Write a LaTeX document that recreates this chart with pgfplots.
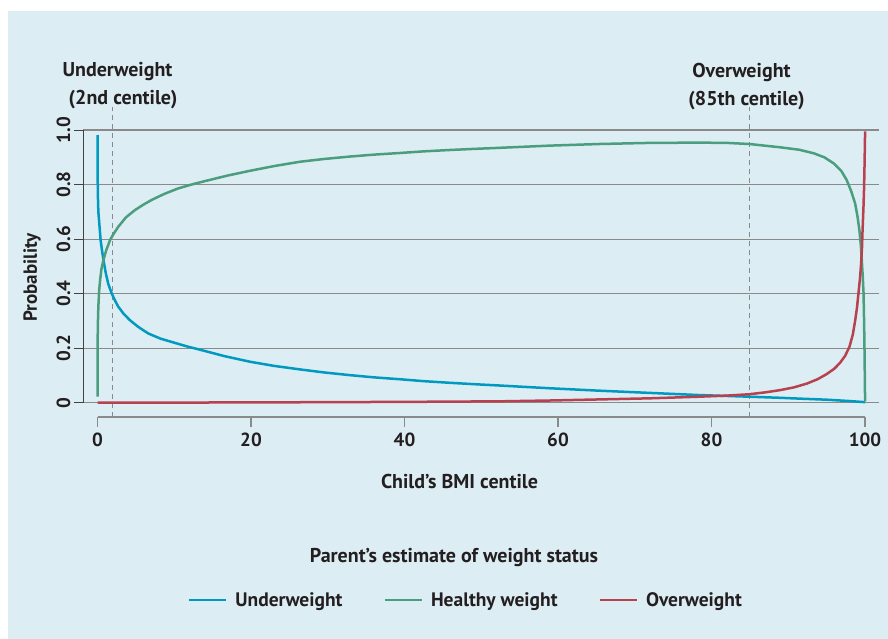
\documentclass[border=0pt]{standalone}
\usepackage{pgfplots}
\pgfplotsset{compat=1.18}
\usepackage{fontspec}
\setmainfont{PT Sans}
\definecolor{panel}{HTML}{DDEDF4}
\definecolor{txt}{HTML}{231F20}
\definecolor{gridc}{HTML}{8A8A8A}
\definecolor{cBlue}{HTML}{0099C0}
\definecolor{cGreen}{HTML}{4A9E7E}
\definecolor{cRed}{HTML}{B84150}
\newcommand{\lab}{\fontsize{20}{22}\selectfont\bfseries}
\newcommand{\leg}{\fontsize{19.5}{22}\selectfont\bfseries}
\newcommand{\ylab}{\fontsize{19}{21}\selectfont\bfseries}
\newcommand{\tck}{\fontsize{19}{21}\selectfont\bfseries}
\begin{document}
\begin{tikzpicture}[x=1pt,y=1pt]
\useasboundingbox (0,0) rectangle (888,639);
\fill[white] (0,0) rectangle (888,639);
\fill[panel] (8,0) rectangle (888,628);
\begin{axis}[
  at={(83pt,236.3pt)}, anchor=south west, scale only axis,
  width=795.9pt, height=272.6pt,
  xmin=-1.9, xmax=101.8, ymin=0, ymax=1,
  axis x line=none, axis y line*=left,
  y axis line style={draw=txt!85, line width=1pt},
  ytick={0,0.2,0.4,0.6,0.8,1.0},
  yticklabels={0,0.2,0.4,0.6,0.8,1.0},
  tick align=outside, major tick length=9pt,
  ytick style={draw=txt!85, line width=1pt},
  yticklabel style={rotate=90, anchor=south, font=\tck, text=txt},
  /pgf/number format/assume math mode=true,
  ymajorgrids, grid style={draw=gridc, line width=1.2pt},
  clip=false,
  legend style={at={(axis description cs:0.1319,-0.724)}, anchor=west,
    draw=none, fill=none, inner sep=0pt, outer sep=0pt,
    font=\leg, text=txt, nodes={inner sep=0pt},
    legend columns=3,
    /tikz/every even column/.append style={column sep=41pt}},
  legend image code/.code={\draw[#1] (0pt,0pt) -- (37pt,0pt); \path (45pt,0pt);},
]
\addplot[gridc, dashed, line width=1pt, dash pattern=on 5pt off 4pt, forget plot]
  coordinates {(2,-0.053) (2,1.085)};
\addplot[gridc, dashed, line width=1pt, dash pattern=on 5pt off 4pt, forget plot]
  coordinates {(85,-0.053) (85,1.085)};
\addplot[cBlue, line width=2.5pt, line join=round] coordinates {
(0,0.982) (0.01,0.85) (0.03,0.77) (0.1,0.70) (0.2,0.665) (0.4,0.595) (0.63,0.548) (0.85,0.51) (1.07,0.475) (1.4,0.435) (1.85,0.40) (2.3,0.373) (2.7,0.352) (3.4,0.326) (4.2,0.303) (5.3,0.278) (6.6,0.254) (8.2,0.235) (10,0.220) (11.7,0.206) (13.4,0.194) (16.5,0.171) (19.9,0.150) (23,0.135) (26.4,0.122) (29.5,0.111) (32.9,0.101) (36,0.093) (39.4,0.086) (42.5,0.079) (45.9,0.073) (49,0.068) (52.4,0.063) (58.9,0.053) (65.4,0.044) (71.9,0.036) (78.4,0.028) (84.9,0.022) (88.9,0.018) (91.4,0.015) (95,0.011) (98,0.006) (100,0.002)
};
\addlegendentry{Underweight}
\addplot[cGreen, line width=2.5pt, line join=round] coordinates {
(0,0.022) (0,0.18) (0.03,0.28) (0.1,0.352) (0.2,0.41) (0.33,0.45) (0.5,0.49) (0.76,0.523) (1.1,0.557) (1.63,0.597) (2.1,0.62) (2.71,0.646) (3.7,0.68) (4.89,0.707) (6,0.727) (7.06,0.744) (8.7,0.766) (10.5,0.786) (12.2,0.80) (14,0.813) (16.9,0.833) (19.9,0.851) (23,0.868) (26.4,0.884) (29.5,0.894) (32.9,0.903) (36,0.91) (39.4,0.916) (42.5,0.922) (45.9,0.927) (49,0.931) (52.4,0.935) (58.9,0.943) (65.4,0.949) (71.9,0.953) (78.4,0.954) (82,0.953) (84.9,0.949) (88.9,0.937) (91.4,0.928) (93.3,0.915) (94.7,0.90) (95.9,0.878) (96.9,0.85) (97.6,0.817) (98.2,0.775) (98.7,0.731) (99.0,0.685) (99.26,0.633) (99.45,0.575) (99.57,0.523) (99.7,0.46) (99.8,0.401) (99.88,0.28) (99.93,0.18) (99.97,0.08) (100,0.005)
};
\addlegendentry{Healthy weight}
\addplot[cRed, line width=2.5pt, line join=round] coordinates {
(0,0) (10,0.0005) (20,0.001) (30,0.002) (40,0.003) (52.4,0.005) (58.9,0.008) (65.4,0.012) (71.9,0.016) (78.4,0.022) (82,0.026) (84.9,0.031) (87,0.038) (88.9,0.046) (90.7,0.056) (92.4,0.07) (93.8,0.086) (95,0.105) (96,0.125) (96.7,0.145) (97.4,0.172) (97.96,0.205) (98.4,0.25) (98.7,0.3) (98.95,0.35) (99.13,0.40) (99.33,0.455) (99.48,0.51) (99.6,0.57) (99.67,0.633) (99.78,0.71) (99.87,0.79) (99.94,0.89) (100,0.995)
};
\addlegendentry{Overweight}
\end{axis}
\begin{axis}[
  at={(97.5pt,222pt)}, anchor=south west, scale only axis,
  width=767.5pt, height=50pt,
  xmin=0, xmax=100, ymin=0, ymax=1,
  axis y line=none, axis x line*=bottom,
  x axis line style={draw=gridc, line width=1.2pt},
  xtick={0,20,40,60,80,100},
  tick align=outside, major tick length=10pt,
  xtick style={draw=gridc, line width=1.2pt},
  xticklabel style={font=\tck, text=txt, yshift=-2pt},
  /pgf/number format/assume math mode=true,
]
\addplot[draw=none, forget plot] coordinates {(0,0) (100,0)};
\end{axis}
\node[anchor=base, text=txt, font=\lab] at (117.5,562) {Underweight};
\node[anchor=base, text=txt, font=\lab] at (123,534) {(2nd centile)};
\node[anchor=base, text=txt, font=\lab] at (741.5,561) {Overweight};
\node[anchor=base, text=txt, font=\lab] at (746.5,533) {(85th centile)};
\node[rotate=90, text=txt, font=\ylab] at (32,361.5) {Probability};
\node[text=txt, font=\lab] at (459.5,157) {Child’s BMI centile};
\node[text=txt, font=\lab] at (454,81) {Parent’s estimate of weight status};
\end{tikzpicture}
\end{document}
